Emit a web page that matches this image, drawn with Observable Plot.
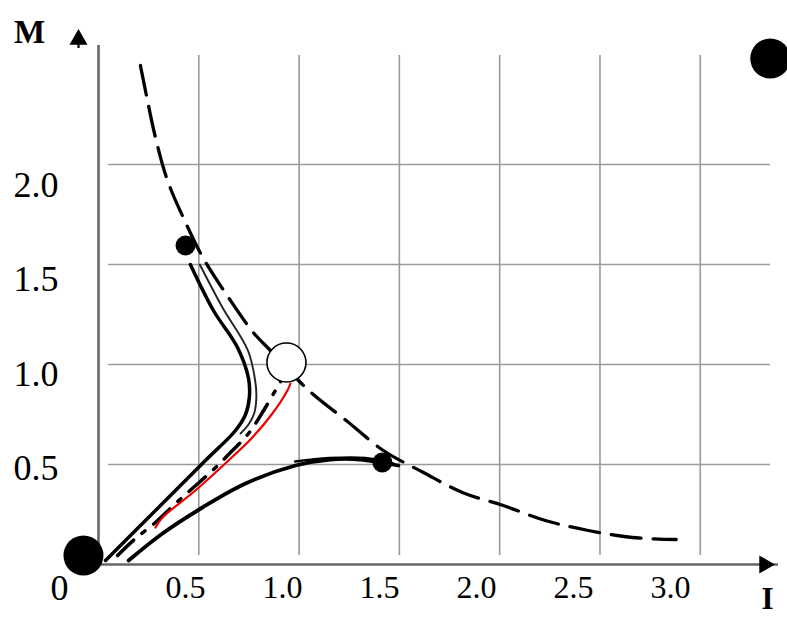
<!DOCTYPE html>
<html>
<head>
<meta charset="utf-8">
<script src="https://cdn.jsdelivr.net/npm/d3@7"></script>
<script src="https://cdn.jsdelivr.net/npm/@observablehq/plot@0.6"></script>
<style>
  body { margin: 0; background: #fff; }
  #wrap { position: relative; width: 787px; height: 619px; overflow: hidden; }
  #wrap svg { position: absolute; left: 0; top: 0; }
</style>
</head>
<body>
<div id="wrap"></div>
<script>
// ---- data (I, M) ----
const gridI = [0.5, 1.0, 1.5, 2.0, 2.5, 3.0];
const gridM = [0.5, 1.0, 1.5, 2.0];
const xTickLabels = [0.5, 1.0, 1.5, 2.0, 2.5, 3.0];
const yTickLabels = [0.5, 1.0, 1.5, 2.0];
const originLabel = ["0"];
const xAxisTitle = ["I"];
const yAxisTitle = ["M"];

// dashed isocline
const isocline = [
  [0.209, 2.495], [0.239, 2.345], [0.284, 2.135], [0.344, 1.92], [0.434, 1.71],
  [0.523, 1.53], [0.648, 1.335], [0.772, 1.16], [0.857, 1.07], [0.997, 0.92],
  [1.071, 0.85], [1.241, 0.715], [1.42, 0.57], [1.62, 0.46], [1.814, 0.36],
  [2.018, 0.295], [2.228, 0.22], [2.442, 0.17], [2.661, 0.135], [2.88, 0.125]
];
// upper trajectory (thick)
const upperTraj = [
  [0.458, 1.50], [0.573, 1.27], [0.693, 1.085], [0.748, 0.93], [0.752, 0.835],
  [0.733, 0.75], [0.683, 0.67], [0.533, 0.52], [0.319, 0.305], [0.035, 0.02]
];
// upper trajectory (thin companion)
const upperTrajThin = [
  [0.505, 1.50], [0.618, 1.285], [0.745, 1.07], [0.781, 0.92], [0.787, 0.835],
  [0.776, 0.755], [0.748, 0.70], [0.708, 0.655]
];
// dash-dot separatrix
const separatrix = [
  [0.095, 0.045], [0.184, 0.13], [0.284, 0.21], [0.384, 0.305], [0.473, 0.385],
  [0.568, 0.47], [0.658, 0.56], [0.748, 0.655], [0.817, 0.76], [0.882, 0.87],
  [0.917, 0.93]
];
// red trajectory
const redTraj = [
  [0.284, 0.185], [0.319, 0.235], [0.483, 0.37], [0.648, 0.52], [0.767, 0.635],
  [0.867, 0.755], [0.942, 0.87], [0.957, 0.905]
];
// lower trajectory
const lowerTraj = [
  [0.15, 0.02], [0.319, 0.155], [0.518, 0.285], [0.733, 0.405], [0.982, 0.495],
  [1.156, 0.525], [1.306, 0.525], [1.405, 0.51], [1.495, 0.495]
];
const lowerTrajThin = [
  [0.98, 0.515], [1.15, 0.532], [1.33, 0.532], [1.47, 0.505]
];
// equilibrium points
const bigDots = [[-0.075, 0.045], [3.349, 2.53]];
const smallDots = [[0.434, 1.595], [1.415, 0.51]];
const saddle = [[0.937, 1.01]];

const serif = "'Liberation Serif', 'Times New Roman', serif";

const main = Plot.plot({
  width: 787, height: 619,
  marginLeft: 98, marginRight: 7, marginTop: 44, marginBottom: 55,
  x: { domain: [0, 3.4], axis: null },
  y: { domain: [0, 2.6], axis: null },
  style: { background: "white", fontFamily: serif, overflow: "visible" },
  marks: [
    Plot.ruleX(gridI, { y1: 0.045, y2: 2.545, stroke: "#9a9a9a", strokeWidth: 1.6 }),
    Plot.ruleY(gridM, { x1: 0.05, x2: 3.35, stroke: "#9a9a9a", strokeWidth: 1.6 }),
    Plot.ruleX([0], { y1: 0, y2: 2.595, stroke: "#666", strokeWidth: 2.6 }),
    Plot.ruleY([0], { x1: 0, x2: 3.39, stroke: "#666", strokeWidth: 2.6 }),
    Plot.dot([0], { frameAnchor: "bottom-right", dx: -16, symbol: "triangle", r: 6.7, fill: "black", stroke: "none", rotate: 90 }),
    Plot.dot([0], { frameAnchor: "top-left", dx: -20, dy: -5, symbol: "triangle", r: 6.7, fill: "black", stroke: "none" }),
    Plot.ruleX([0], { y1: 2.58, y2: 2.61, dx: -20, stroke: "black", strokeWidth: 2.2 }),
    Plot.line(isocline, { x: "0", y: "1", curve: "catmull-rom", stroke: "black", strokeWidth: 3.3, strokeDasharray: "30,12" }),
    Plot.line(upperTraj, { x: "0", y: "1", curve: "catmull-rom", stroke: "black", strokeWidth: 3.5 }),
    Plot.line(upperTrajThin, { x: "0", y: "1", curve: "catmull-rom", stroke: "#222", strokeWidth: 1.9 }),
    Plot.line(separatrix, { x: "0", y: "1", curve: "catmull-rom", stroke: "black", strokeWidth: 3.5, strokeDasharray: "22,11,4,11" }),
    Plot.line(redTraj, { x: "0", y: "1", curve: "catmull-rom", stroke: "#ee0000", strokeWidth: 2.2 }),
    Plot.line(lowerTraj, { x: "0", y: "1", curve: "catmull-rom", stroke: "black", strokeWidth: 3.8 }),
    Plot.line(lowerTrajThin, { x: "0", y: "1", curve: "catmull-rom", stroke: "black", strokeWidth: 2.5 }),
    Plot.dot(bigDots, { x: "0", y: "1", r: 20, fill: "black", stroke: "none" }),
    Plot.dot(smallDots, { x: "0", y: "1", r: 10, fill: "black", stroke: "none" }),
    Plot.dot(saddle, { x: "0", y: "1", r: 19.5, fill: "white", stroke: "black", strokeWidth: 1.6 }),
    Plot.text(originLabel, { frameAnchor: "bottom-left", text: d => d, textAnchor: "middle", lineAnchor: "middle", dx: -39, dy: 24, fontSize: 36, fill: "black", fontFamily: serif }),
    Plot.text(yAxisTitle, { frameAnchor: "top-left", text: d => d, textAnchor: "middle", lineAnchor: "middle", dx: -69, dy: -12, fontSize: 33, fontWeight: "bold", fill: "black", fontFamily: serif }),
    Plot.text(xAxisTitle, { frameAnchor: "bottom-right", text: d => d, textAnchor: "middle", lineAnchor: "middle", dx: -13, dy: 35, fontSize: 31, fontWeight: "bold", fill: "black", fontFamily: serif })
  ]
});

// Tick labels are drawn slightly compressed relative to the grid in the original
const labels = Plot.plot({
  width: 787, height: 619,
  marginLeft: 88, marginRight: 787 - 88 - 3.4 * 194,
  marginTop: 619 - 56.7 - 2.6 * 188.7, marginBottom: 56.7,
  x: { domain: [0, 3.4], label: null },
  y: { domain: [0, 2.6], label: null },
  style: { background: "transparent", fontFamily: serif },
  marks: [
    Plot.axisX(xTickLabels, { tickSize: 0, tickPadding: 12.5, fontSize: 32, fill: "black", tickFormat: d => d.toFixed(1), label: null }),
    Plot.axisY(yTickLabels, { tickSize: 0, tickPadding: 30, fontSize: 36, fill: "black", tickFormat: d => d.toFixed(1), label: null })
  ]
});
labels.style.pointerEvents = "none";

const wrap = document.getElementById("wrap");
wrap.appendChild(main);
wrap.appendChild(labels);
</script>
</body>
</html>
